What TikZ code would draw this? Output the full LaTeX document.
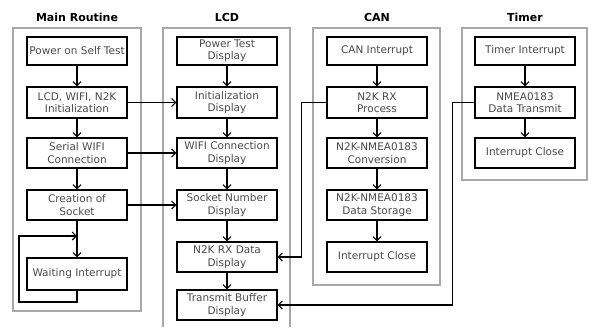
\documentclass[tikz,border=0pt]{standalone}
\usepackage{fontspec}
\setmainfont{DejaVu Sans}
\usetikzlibrary{arrows.meta}
\definecolor{txt}{HTML}{4A4A4A}
\definecolor{frm}{HTML}{A8A8A8}
\tikzset{
  box/.style={draw=black, line width=1.2pt, minimum width=100pt, minimum height=30pt,
    align=center, inner sep=1pt, text=txt, font=\fontsize{10.5}{12.5}\selectfont},
  ttl/.style={font=\bfseries\fontsize{11}{13}\selectfont, text=black},
  frame/.style={draw=frm, line width=1.3pt},
  arr/.style={line width=1.1pt, -{Straight Barb[length=4pt,width=8pt,line width=1.1pt]}},
  ln/.style={line width=1.1pt}
}
\begin{document}
\begin{tikzpicture}[x=1pt,y=-1pt]
\useasboundingbox (0,0) rectangle (589,327);
% frames
\draw[frame] (13,28) rectangle (141,311);
\draw[frame] (163,327) -- (163,28) -- (290,28) -- (290,327);
\draw[frame] (313,28) rectangle (440,285);
\draw[frame] (462,28) rectangle (587,180);
% titles
\node[ttl] (tm) at (77,17) {Main Routine};
\node[ttl] (tl) at (227,17) {LCD};
\node[ttl] (tc) at (377,17) {CAN};
\node[ttl] (tt) at (525,17) {Timer};
% main routine
\node[box, minimum height=28pt] (m1) at (77,51) {Power on Self Test};
\node[box, minimum height=31pt] (m2) at (77,102.5) {LCD, WIFI, N2K\\Initialization};
\node[box] (m3) at (77,153) {Serial WIFI\\Connection};
\node[box] (m4) at (77,205) {Creation of\\Socket};
\node[box, minimum height=32pt] (m5) at (77,274) {Waiting Interrupt};
% LCD
\node[box, minimum height=28pt] (l1) at (227,51) {Power Test\\Display};
\node[box, minimum height=31pt] (l2) at (227,102.5) {Initialization\\Display};
\node[box] (l3) at (227,153) {WIFI Connection\\Display};
\node[box] (l4) at (227,205) {Socket Number\\Display};
\node[box] (l5) at (227,257) {N2K RX Data\\Display};
\node[box] (l6) at (227,305) {Transmit Buffer\\Display};
% CAN
\node[box, minimum height=28pt] (c1) at (377,51) {CAN Interrupt};
\node[box, minimum height=31pt] (c2) at (377,102.5) {N2K RX\\Process};
\node[box] (c3) at (377,153) {N2K-NMEA0183\\Conversion};
\node[box] (c4) at (377,205) {N2K-NMEA0183\\Data Storage};
\node[box] (c5) at (377,257) {Interrupt Close};
% Timer
\node[box, minimum height=28pt] (t1) at (525,51) {Timer Interrupt};
\node[box, minimum height=31pt] (t2) at (525,102.5) {NMEA0183\\Data Transmit};
\node[box] (t3) at (525,153) {Interrupt Close};
% vertical arrows
\foreach \a/\b in {m1/m2,m2/m3,m3/m4,m4/m5,l1/l2,l2/l3,l3/l4,l4/l5,l5/l6,c1/c2,c2/c3,c3/c4,c4/c5,t1/t2,t2/t3}
  \draw[arr] (\a.south) -- (\b.north);
% loop
\coordinate (lj) at (77,236);
\draw[arr] (m5.south) -- (77,302) -- (19,302) -- (19,236) -- (lj);
% cross connectors
\draw[arr] (m2.east) -- (l2.west);
\draw[arr] (m3.east) -- (l3.west);
\draw[arr] (m4.east) -- (l4.west);
\draw[arr] (c2.west) -- ++(-25,0) |- (l5.east);
\draw[arr] (t2.west) -- ++(-22,0) |- (l6.east);
\end{tikzpicture}
\end{document}
